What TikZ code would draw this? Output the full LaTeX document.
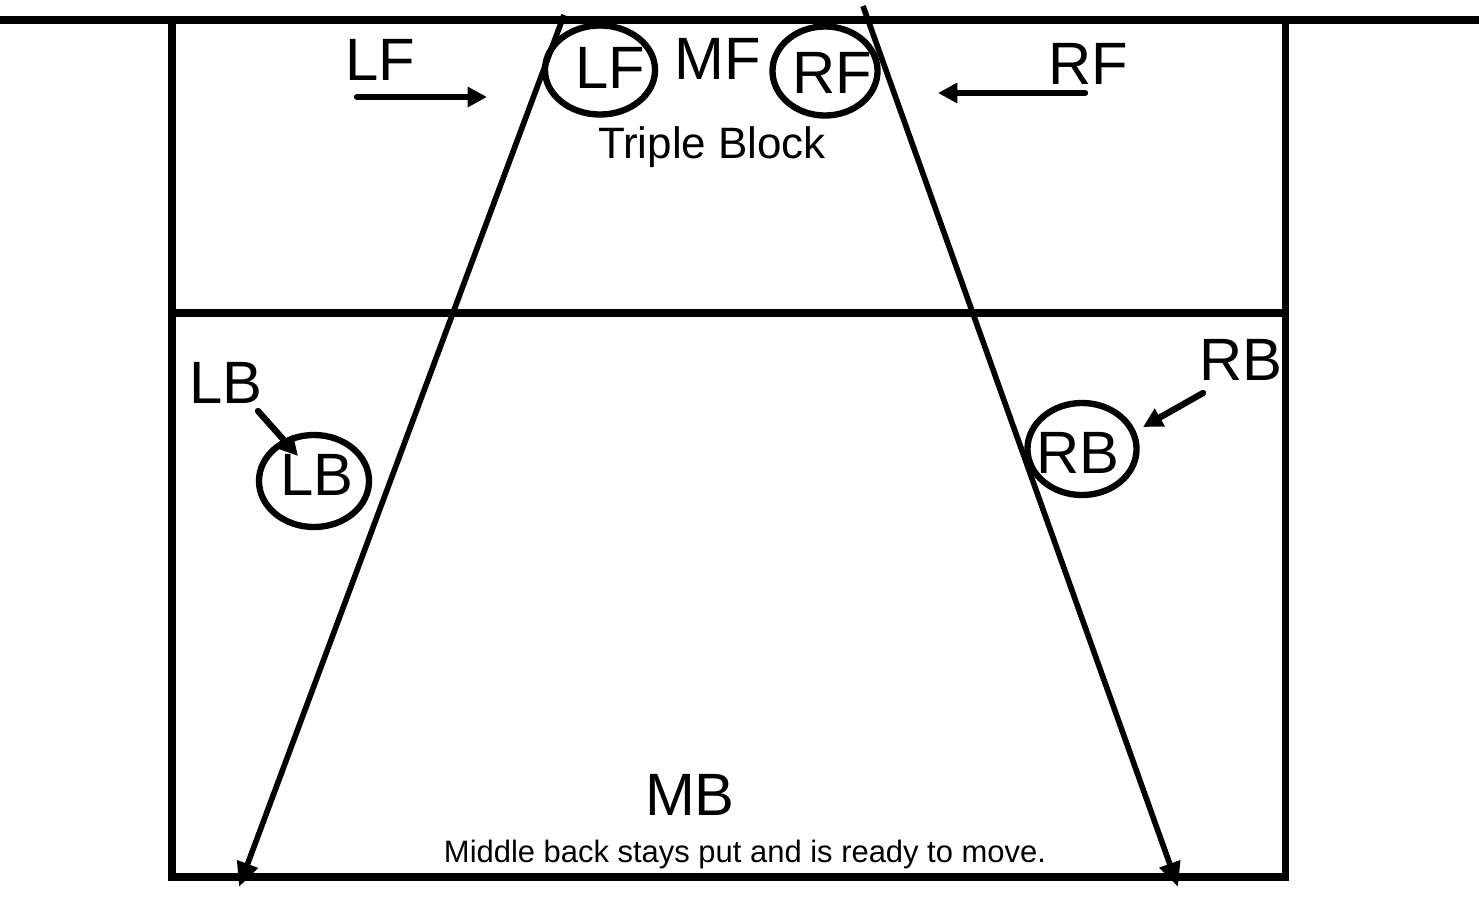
\documentclass[tikz,border=0pt]{standalone}
\usepackage{fontspec}
\setmainfont{Liberation Sans}
\usetikzlibrary{arrows.meta,shapes.geometric}
\begin{document}
\begin{tikzpicture}[x=0.01cm,y=-0.01cm,
  court/.style={line width=2pt},
  ring/.style={draw,ellipse,line width=1.8pt,inner sep=0pt},
  lbl/.style={font=\fontsize{17}{19}\selectfont,inner sep=0pt,anchor=base},
  mover/.style={line width=1.8pt,line cap=round,-{Triangle[length=5.5pt,width=5.5pt]}},
  lane/.style={line width=1.6pt,-{Triangle[length=7pt,width=6pt]}}]
\useasboundingbox (0,0) rectangle (1479,897);

% court outline, attack line and net
\draw[court] (172,20) rectangle (1285,877);
\draw[court] (172,313) -- (1285,313);
\draw[line width=2.2pt] (0,20) -- (1479,20);

% player rings
\node[ring,minimum width=1.10cm,minimum height=0.89cm] (lfring) at (600,70) {};
\node[ring,minimum width=1.05cm,minimum height=0.89cm] (rfring) at (825,71) {};
\node[ring,minimum width=1.10cm,minimum height=0.92cm] (lbring) at (314,481) {};
\node[ring,minimum width=1.09cm,minimum height=0.92cm] (rbring) at (1082,449) {};

% lines of the block shadow
\coordinate (ltop) at (564,15);
\coordinate (lbot) at (239,887);
\coordinate (rtop) at (863,6);
\coordinate (rbot) at (1178,887);
\draw[lane] (ltop) -- (lbot);
\draw[lane] (rtop) -- (rbot);

% labels
\node[lbl] (lfout) at (380,80) {LF};
\node[lbl] (mf) at (718,79) {MF};
\node[lbl] (rfout) at (1088,84) {RF};
\node[lbl] (lfin) at (610,88) {LF};
\node[lbl] (rfin) at (832,93) {RF};
\node[lbl,font=\fontsize{12.5}{14}\selectfont] (triple) at (712,158) {Triple Block};
\node[lbl] (lbout) at (226,403) {LB};
\node[lbl] (lbin) at (317,495) {LB};
\node[lbl] (rbout) at (1241,380) {RB};
\node[lbl] (rbin) at (1078,473) {RB};
\node[lbl] (mb) at (690,815) {MB};
\node[lbl,font=\fontsize{8.8}{10}\selectfont] (note) at (745,862) {Middle back stays put and is ready to move.};

% movement arrows
\coordinate (lfs) at (357,97);
\coordinate (lfe) at (487,97);
\coordinate (rfs) at (1085,93);
\coordinate (rfe) at (938,93);
\coordinate (lbs) at (258,411);
\coordinate (lbe) at (298,456);
\coordinate (rbs) at (1203,393);
\coordinate (rbe) at (1143,427);
\draw[mover] (lfs) -- (lfe);
\draw[mover] (rfs) -- (rfe);
\draw[mover] (lbs) -- (lbe);
\draw[mover] (rbs) -- (rbe);
\end{tikzpicture}
\end{document}
